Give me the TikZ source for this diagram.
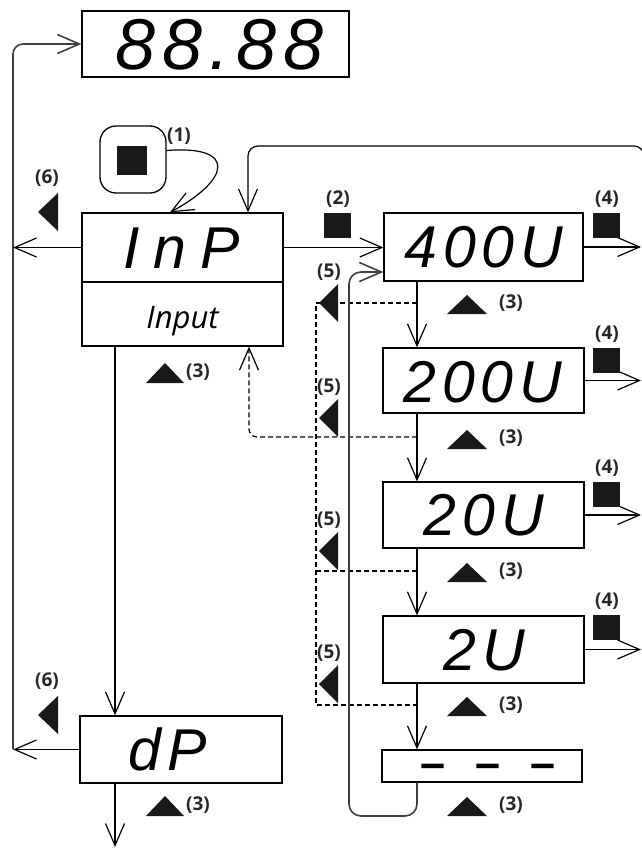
\documentclass[tikz,border=0pt]{standalone}
\usepackage{fontspec}
\setmainfont{Liberation Sans}
\newfontfamily\segfont{Liberation Sans}[LetterSpace=10]
\newfontfamily\segwide{Liberation Sans}[LetterSpace=24]
\newfontfamily\labfont{Open Sans}
\newfontfamily\inputfont{Open Sans}
\usetikzlibrary{arrows.meta}
\begin{document}
\begin{tikzpicture}[x=1pt,y=-1pt,
  box/.style={draw, line width=1.3pt, inner sep=0pt},
  conn/.style={line width=1.2pt},
  arr/.style={conn, -{Straight Barb[length=22pt,width=19pt]}},
  grayline/.style={line width=1.6pt, draw=black!75},
  dln/.style={line width=1.2pt, dash pattern=on 5pt off 3pt},
  segtxt/.style={font=\segfont\itshape\fontsize{59pt}{60pt}\selectfont, anchor=base, inner sep=0pt},
  lab/.style={font=\labfont\bfseries\fontsize{19pt}{19pt}\selectfont, text=black!85, inner sep=0pt},
  keysq/.style={fill=black!90, inner sep=0pt},
]
\useasboundingbox (0,0) rectangle (642,848);

% boxes
\node[box, minimum width=267pt, minimum height=66pt] (top) at (215.5,44) {};
\node[box, minimum width=201pt, minimum height=69pt] (inpA) at (182.5,247.5) {};
\node[box, minimum width=201pt, minimum height=64pt] (inpB) at (182.5,314) {};
\node[box, minimum width=202pt, minimum height=67pt] (dP) at (181,749.5) {};
\node[box, minimum width=199pt, minimum height=68pt] (u400) at (483.5,247) {};
\node[box, minimum width=201pt, minimum height=65pt] (u200) at (483.5,380.5) {};
\node[box, minimum width=201pt, minimum height=66pt] (u20) at (483.5,515) {};
\node[box, minimum width=201pt, minimum height=67pt] (u2) at (483.5,649.5) {};
\node[box, minimum width=200pt, minimum height=32pt] (dash) at (482,766) {};

% texts
\node[segtxt, font=\segfont\itshape\fontsize{72pt}{72pt}\selectfont] (t88) at (219.5,70) {88.88};
\node[segtxt, font=\segwide\itshape\fontsize{59pt}{60pt}\selectfont] (tinp) at (181.5,268) {InP};
\node[font=\inputfont\itshape\fontsize{31pt}{32pt}\selectfont, anchor=base, inner sep=0pt] (tinput) at (182.5,328) {Input};
\node[segtxt] (t400) at (484,267) {400U};
\node[segtxt] (t200) at (483,402) {200U};
\node[segtxt] (t20) at (484,535) {20U};
\node[segtxt] (t2) at (484.5,670) {2U};
\node[segtxt] (tdp) at (168,770) {dP};
\node[font=\bfseries\fontsize{45pt}{45pt}\selectfont, anchor=base, inner sep=0pt] (tdash) at (488,778) {–\hspace{30pt}–\hspace{30pt}–};

% key symbol
\node[draw, line width=1.3pt, rounded corners=16pt, minimum width=66pt, minimum height=67pt, inner sep=0pt] (key) at (133,159.5) {};
\node[keysq, minimum width=30pt, minimum height=29pt] (keyin) at (132,160.5) {};
\node[lab] (l1) at (179,136) {(1)};
\draw[arr] (key.15) .. controls (238,145) and (230,180) .. (inpA.north -| 170,0);

% dashed return lines
\draw[dln] (417,303) -- (316,303) -- (316,705) -- (417,705);
\draw[dln] (316,571) -- (417,571);
\draw[dln, -{Straight Barb[length=22pt,width=19pt]}, rounded corners=8pt] (417,437) -| (inpB.south -| 249,0);

% main left line
\draw[grayline, -{Straight Barb[length=22pt,width=19pt]}, rounded corners=10pt] (13,749) -- (13,44) -- (top.west);
\draw[arr] (inpA.west) -- (inpA.west -| 13,0);
\draw[arr] (dP.west) -- (dP.west -| 13,0);

% InP connections
\draw[arr, rounded corners=10pt] (644,175) -- (644,146) -- (248,146) -- (inpA.north -| 248,0);
\draw[arr] (inpA.east) -- (inpA.east -| u400.west);
\draw[arr] (inpB.south -| 115,0) -- (dP.north -| 115,0);
\draw[arr] (dP.south -| 115,0) -- (115,847);

% vertical chain
\draw[arr] (u400.south -| 417,0) -- (u200.north -| 417,0);
\draw[arr] (u200.south -| 417,0) -- (u20.north -| 417,0);
\draw[arr] (u20.south -| 417,0) -- (u2.north -| 417,0);
\draw[arr] (u2.south -| 417,0) -- (dash.north -| 417,0);

% loop back
\draw[grayline, -{Straight Barb[length=22pt,width=19pt]}, rounded corners=12pt] (dash.south -| 417,0) |- (349,816) -- (349,272) -- (u400.west |- 0,272);

% right outputs
\foreach \n in {u400,u200,u20,u2} \draw[arr] (\n.east) -- (\n.east -| 641,0);

% (2) key
\node[keysq, minimum width=27pt, minimum height=25pt] (k2) at (337.5,225.5) {};
\node[lab] (l2) at (338,199) {(2)};

% (4) keys
\foreach \t/\nm in {213/a,348/b,482/c,615/d}{
  \node[keysq, minimum width=27pt, minimum height=25pt] (k4\nm) at (606.5,\t+12.5) {};
  \node[lab] (l4\nm) at (607,\t-14) {(4)};
}

% (3) triangles right
\foreach \b/\nm in {314/a,449/b,582/c,716/d,816/e}{
  \fill[black!90] (447,\b) -- (487,\b) -- (467,\b-19) -- cycle;
  \node[lab] (l3\nm) at (511,\b-11) {(3)};
}
% (3) triangles left
\foreach \b/\nm in {383/f,816/g}{
  \fill[black!90] (146,\b) -- (184,\b) -- (165,\b-20) -- cycle;
  \node[lab] (l3\nm) at (198,\b-11) {(3)};
}

% (5) triangles
\foreach \t/\nm in {303/a,418/b,551/c,684/d}{
  \fill[black!90] (319,\t) -- (338,\t-19) -- (338,\t+19) -- cycle;
  \node[lab] (l5\nm) at (329,\t-31) {(5)};
}

% (6) triangles
\foreach \t/\nm in {212/a,715/b}{
  \fill[black!90] (38,\t) -- (58,\t-19) -- (58,\t+19) -- cycle;
  \node[lab] (l6\nm) at (47,\t-34) {(6)};
}
\end{tikzpicture}
\end{document}
